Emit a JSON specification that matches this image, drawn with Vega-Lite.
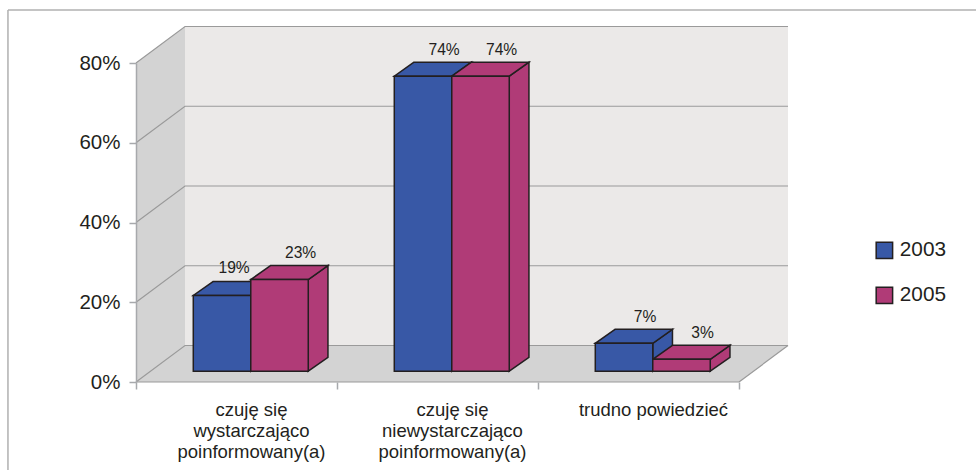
{"$schema":"https://vega.github.io/schema/vega-lite/v6.json","autosize":"none","padding":{"left":136,"top":63,"right":188,"bottom":88},"width":652,"height":319,"background":"white",
"config":{"view":{"stroke":null},"font":"Liberation Sans","text":{"font":"Liberation Sans"}},
"data":{"values":[
{"kategoria":"czuję się|wystarczająco|poinformowany(a)","rok":"2003","wartosc":19},
{"kategoria":"czuję się|wystarczająco|poinformowany(a)","rok":"2005","wartosc":23},
{"kategoria":"czuję się|niewystarczająco|poinformowany(a)","rok":"2003","wartosc":74},
{"kategoria":"czuję się|niewystarczająco|poinformowany(a)","rok":"2005","wartosc":74},
{"kategoria":"trudno powiedzieć","rok":"2003","wartosc":7},
{"kategoria":"trudno powiedzieć","rok":"2005","wartosc":3}]},
"layer":[
{"data":{"values":[{"t":0},{"t":1}]},"transform":[{"calculate":"datum.t*0.2438","as":"x"},{"calculate":"datum.t*9.15","as":"y"},{"calculate":"80+datum.t*9.15","as":"y2"}],
"mark":{"type":"area","color":"#D3D3D3"},"encoding":{"x":{"field":"x","type":"quantitative","scale":{"domain":[0,3.2438],"nice":false,"zero":false},"axis":{"values":[0,0.572,1,1.572,2,2.572,3],"title":null,"grid":false,"domain":false,"labelAngle":0,"labelAlign":"center","labelOverlap":false,"labelExpr":"datum.value==0.572?['czuję się','wystarczająco','poinformowany(a)']:datum.value==1.572?['czuję się','niewystarczająco','poinformowany(a)']:datum.value==2.572?'trudno powiedzieć':''","labelFontSize":18.5,"labelLineHeight":21.4,"labelColor":"#231F20","labelFont":"Liberation Sans","labelPadding":11,"labelFlush":false,"tickSize":7,"tickColor":"#A7A9AC","tickWidth":1.5,"tickOpacity":{"condition":{"test":"datum.value%1==0","value":1},"value":0},"zindex":1}},"y":{"field":"y","type":"quantitative","scale":{"domain":[0,80],"nice":false},"axis":{"values":[0,20,40,60,80],"title":null,"grid":false,"labelExpr":"datum.value+'%'","labelFontSize":20.5,"labelColor":"#231F20","labelFont":"Liberation Sans","labelPadding":9,"tickSize":7,"tickColor":"#A7A9AC","domainColor":"#A7A9AC","tickWidth":1.5,"domainWidth":1.5,"zindex":1}},"y2":{"field":"y2"}}},
{"data":{"values":[{"t":0},{"t":1}]},"transform":[{"calculate":"datum.t*0.2438","as":"x"},{"calculate":"3+datum.t*0.2438","as":"x2"},{"calculate":"datum.t*9.15","as":"y"}],"mark":{"type":"area","orient":"horizontal","color":"#D3D3D3"},"encoding":{"x":{"field":"x","type":"quantitative"},"x2":{"field":"x2"},"y":{"field":"y","type":"quantitative"}}},
{"data":{"values":[{"x":0.2438,"x2":3.2438,"y":9.15,"y2":89.15}]},"mark":{"type":"rect","color":"#EBE9E8"},"encoding":{"x":{"field":"x","type":"quantitative"},"x2":{"field":"x2"},"y":{"field":"y","type":"quantitative"},"y2":{"field":"y2"}}},
{"data":{"values":[{"v":0},{"v":20},{"v":40},{"v":60},{"v":80}]},"transform":[{"calculate":"[0,1,2]","as":"t"},{"flatten":["t"]},{"calculate":"[0,0.2438,3.2438][datum.t]","as":"x"},{"calculate":"datum.v+(datum.t>0?9.15:0)","as":"y"}],"mark":{"type":"line","color":"#9A9A9A","strokeWidth":1.2},"encoding":{"x":{"field":"x","type":"quantitative"},"y":{"field":"y","type":"quantitative"},"detail":{"field":"v","type":"nominal"}}},
{"data":{"values":[{"x":3,"x2":3.2438,"y":0,"y2":9.15},{"x":0,"x2":3,"y":0,"y2":0}]},"mark":{"type":"rule","color":"#9A9A9A","strokeWidth":1.2},"encoding":{"x":{"field":"x","type":"quantitative"},"x2":{"field":"x2"},"y":{"field":"y","type":"quantitative"},"y2":{"field":"y2"}}},
{"data":{"values":[{"x":-0.637,"x2":4.18,"y":93.3,"y2":93.3},{"x":-0.637,"x2":-0.637,"y":93.3,"y2":-22.07}]},"mark":{"type":"rule","color":"#B0B0B0","strokeWidth":1.5},"encoding":{"x":{"field":"x","type":"quantitative"},"x2":{"field":"x2"},"y":{"field":"y","type":"quantitative"},"y2":{"field":"y2"}}},
{"transform":[
{"calculate":"indexof(['czuję się|wystarczająco|poinformowany(a)','czuję się|niewystarczająco|poinformowany(a)','trudno powiedzieć'],datum.kategoria)","as":"idx"},
{"calculate":"datum.idx+0.571-(datum.rok=='2003'?0.286:0)","as":"x0"},
{"calculate":"datum.x0+0.286","as":"x1"},
{"calculate":"datum.wartosc+2.7","as":"gora"},
{"calculate":"2.7","as":"dol"},
{"calculate":"[0,1]","as":"t"},{"flatten":["t"]},
{"calculate":"datum.x1+datum.t*0.098","as":"sx"},
{"calculate":"2.7+datum.t*3.5","as":"sy"},
{"calculate":"datum.gora+datum.t*3.5","as":"sy2"},
{"calculate":"datum.x0+datum.t*0.098","as":"tx"},
{"calculate":"datum.x1+datum.t*0.098","as":"tx2"},
{"calculate":"datum.x0+0.143+(datum.wartosc==19?0.06:0.105)","as":"lx"},
{"calculate":"datum.gora+(datum.wartosc==19?7:6.6)","as":"ly"},
{"calculate":"datum.wartosc+'%'","as":"etykieta"}],
"layer":[
{"mark":{"type":"area","stroke":"#231F20","strokeWidth":1.5},"encoding":{"x":{"field":"sx","type":"quantitative"},"y":{"field":"sy","type":"quantitative"},"y2":{"field":"sy2"},"detail":{"field":"kategoria","type":"nominal"},"color":{"field":"rok","type":"nominal","scale":{"domain":["2003","2005"],"range":["#3858A6","#B03B77"]},"legend":{"title":null,"orient":"none","legendX":738,"legendY":177,"symbolType":"square","symbolSize":270,"symbolFillColor":null,"symbolStrokeColor":"#231F20","symbolStrokeWidth":1.5,"labelFontSize":20.8,"labelColor":"#231F20","labelFont":"Liberation Sans","labelOffset":5,"rowPadding":22,"padding":0}}}},
{"mark":{"type":"area","orient":"horizontal","stroke":"#231F20","strokeWidth":1.5},"encoding":{"x":{"field":"tx","type":"quantitative"},"x2":{"field":"tx2"},"y":{"field":"sy2","type":"quantitative"},"detail":{"field":"kategoria","type":"nominal"},"color":{"field":"rok","type":"nominal"}}},
{"transform":[{"filter":"datum.t==0"}],"mark":{"type":"rect","stroke":"#231F20","strokeWidth":1.5},"encoding":{"x":{"field":"x0","type":"quantitative"},"x2":{"field":"x1"},"y":{"field":"dol","type":"quantitative"},"y2":{"field":"gora"},"color":{"field":"rok","type":"nominal"}}},
{"transform":[{"filter":"datum.t==0"}],"mark":{"type":"text","fontSize":15.6,"color":"#231F20","font":"Liberation Sans"},"encoding":{"x":{"field":"lx","type":"quantitative"},"y":{"field":"ly","type":"quantitative"},"text":{"field":"etykieta"}}}
]}
]}
